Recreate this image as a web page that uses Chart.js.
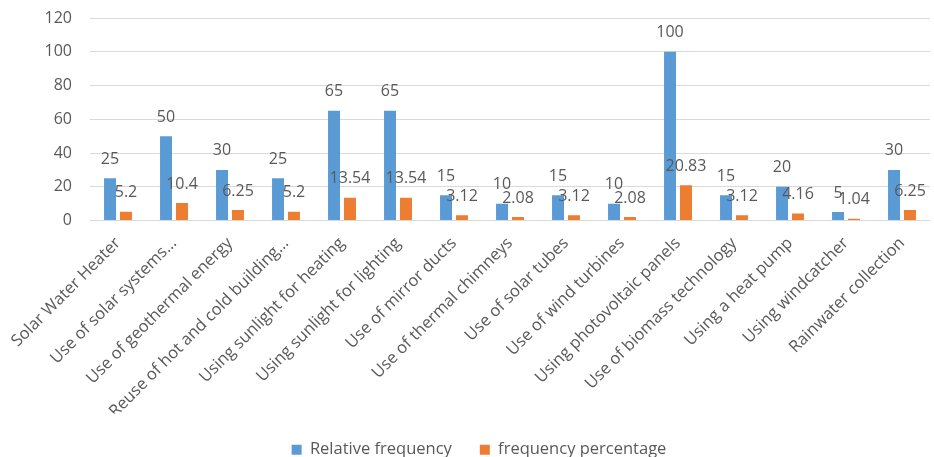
<!DOCTYPE html>
<html>
<head>
<meta charset="utf-8">
<script src="https://cdn.jsdelivr.net/npm/chart.js@4/dist/chart.umd.min.js"></script>
<style>
  html, body { margin: 0; padding: 0; background: #ffffff; }
  #wrap { width: 934px; height: 457px; position: relative; }
</style>
</head>
<body>
<div id="wrap"><canvas id="c" width="934" height="457"></canvas></div>
<script>
const categories = [
  "Solar Water Heater",
  "Use of solar systems...",
  "Use of geothermal energy",
  "Reuse of hot and cold building...",
  "Using sunlight for heating",
  "Using sunlight for lighting",
  "Use of mirror ducts",
  "Use of thermal chimneys",
  "Use of solar tubes",
  "Use of wind turbines",
  "Using photovoltaic panels",
  "Use of biomass technology",
  "Using a heat pump",
  "Using windcatcher",
  "Rainwater collection"
];
const relativeFrequency = [25, 50, 30, 25, 65, 65, 15, 10, 15, 10, 100, 15, 20, 5, 30];
const frequencyPercentage = [5.2, 10.4, 6.25, 5.2, 13.54, 13.54, 3.12, 2.08, 3.12, 2.08, 20.83, 3.12, 4.16, 1.04, 6.25];
const yTicks = [0, 20, 40, 60, 80, 100, 120];

const TEXT = "#595959";
const FONT = "'Open Sans', 'Liberation Sans', sans-serif";

// Value labels drawn above each bar
const valueLabels = {
  id: "valueLabels",
  afterDatasetsDraw(chart) {
    const ctx = chart.ctx;
    ctx.save();
    ctx.font = "16px " + FONT;
    ctx.fillStyle = TEXT;
    ctx.textAlign = "center";
    ctx.textBaseline = "middle";
    chart.data.datasets.forEach((ds, i) => {
      const meta = chart.getDatasetMeta(i);
      meta.data.forEach((bar, j) => {
        ctx.fillText(String(ds.data[j]), bar.x, bar.y - 19);
      });
    });
    ctx.restore();
  }
};

new Chart(document.getElementById("c"), {
  type: "bar",
  data: {
    labels: categories,
    datasets: [
      {
        label: "Relative frequency",
        data: relativeFrequency,
        backgroundColor: "#5B9BD5",
        categoryPercentage: 0.57,
        barPercentage: 0.75
      },
      {
        label: "frequency percentage",
        data: frequencyPercentage,
        backgroundColor: "#ED7D31",
        categoryPercentage: 0.57,
        barPercentage: 0.75
      }
    ]
  },
  options: {
    responsive: false,
    animation: false,
    layout: { padding: { top: 18, right: 4, left: 28, bottom: -11 } },
    plugins: {
      tooltip: { enabled: false },
      legend: {
        position: "bottom",
        labels: {
          boxWidth: 10,
          boxHeight: 10,
          padding: 28,
          color: TEXT,
          font: { family: FONT, size: 16.5 }
        }
      }
    },
    scales: {
      x: {
        grid: { display: false },
        border: { display: false },
        ticks: {
          color: TEXT,
          font: { family: FONT, size: 16.5 },
          minRotation: 45,
          maxRotation: 45,
          autoSkip: false,
          padding: 5
        },
        afterFit(s) { s.height = 193; }
      },
      y: {
        min: 0,
        max: 120,
        afterBuildTicks(s) { s.ticks = yTicks.map(v => ({ value: v })); },
        grid: { color: "#d9d9d9", lineWidth: 1, drawTicks: false },
        border: { display: false },
        ticks: {
          color: TEXT,
          font: { family: FONT, size: 16 },
          padding: 18
        },
        afterFit(s) {
          s.width = 62;
          s.paddingTop = 0;
          s.paddingBottom = 0;
        }
      }
    }
  },
  plugins: [valueLabels]
});
</script>
</body>
</html>
